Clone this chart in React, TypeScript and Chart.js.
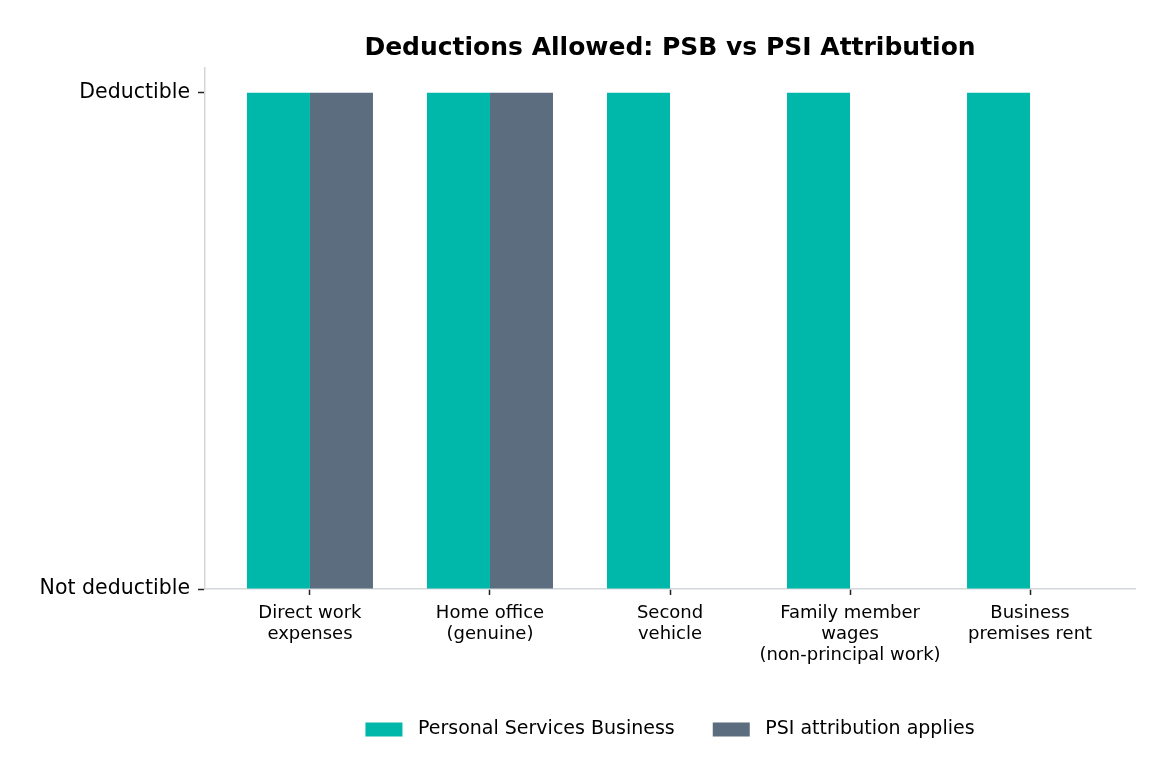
import React, { useEffect, useRef } from "react";
import { Chart, registerables } from "chart.js";

Chart.register(...registerables);

const categories: string[][] = [
  ["Direct work", "expenses"],
  ["Home office", "(genuine)"],
  ["Second", "vehicle"],
  ["Family member", "wages", "(non-principal work)"],
  ["Business", "premises rent"],
];
const psbValues = [1, 1, 1, 1, 1];
const psiValues = [1, 1, 0, 0, 0];
const yTickValues = [0, 1];
const yTickLabels = ["Not deductible", "Deductible"];

const TEAL = "#00B8A9";
const SLATE = "#5B6D7E";
const SPINE = "#d3d6da";
const TICK = "#222222";
const FONT = "'DejaVu Sans', sans-serif";

export default function App() {
  const canvasRef = useRef<HTMLCanvasElement | null>(null);

  useEffect(() => {
    if (!canvasRef.current) return;
    const toPoints = (vals: number[]) => vals.map((y, x) => ({ x, y }));
    const chart = new Chart(canvasRef.current, {
      type: "bar",
      data: {
        datasets: [
          {
            label: "Personal Services Business",
            data: toPoints(psbValues),
            backgroundColor: TEAL,
            borderWidth: 0,
            categoryPercentage: 0.7,
            barPercentage: 1.0,
          },
          {
            label: "PSI attribution applies",
            data: toPoints(psiValues),
            backgroundColor: SLATE,
            borderWidth: 0,
            categoryPercentage: 0.7,
            barPercentage: 1.0,
          },
        ],
      },
      options: {
        animation: false,
        responsive: true,
        maintainAspectRatio: false,
        layout: { padding: { left: 0, right: 37, top: 0, bottom: 34 } },
        plugins: {
          title: {
            display: true,
            text: "Deductions Allowed: PSB vs PSI Attribution",
            fullSize: false,
            color: "#000",
            font: { family: FONT, size: 25, weight: "bold" },
            padding: { top: 33, bottom: 5 },
          },
          legend: {
            position: "bottom",
            fullSize: false,
            labels: {
              color: "#000",
              font: { family: FONT, size: 19 },
              boxWidth: 37,
              boxHeight: 14,
              padding: 38,
              generateLabels: (c: any) => {
                const items = Chart.defaults.plugins.legend.labels.generateLabels(c);
                return items.map((it: any) => ({ ...it, text: " " + it.text }));
              },
            },
          },
          tooltip: { enabled: false },
        },
        scales: {
          x: {
            type: "linear",
            min: -0.583,
            max: 4.583,
            offset: false,
            grid: {
              display: true,
              offset: false,
              drawOnChartArea: false,
              drawTicks: true,
              tickLength: 6,
              tickWidth: 1.5,
              tickColor: TICK,
              color: TICK,
            },
            border: { display: true, color: SPINE, width: 1.5 },
            afterBuildTicks: (scale: any) => {
              scale.ticks = categories.map((_, i) => ({ value: i }));
            },
            afterFit: (scale: any) => {
              scale.height = 93;
            },
            ticks: {
              autoSkip: false,
              maxRotation: 0,
              padding: 8,
              color: "#000",
              font: { family: FONT, size: 18, lineHeight: 1.17 },
              callback: (v: any) => categories[Number(v)] ?? "",
            },
          },
          y: {
            min: 0,
            max: 1.05,
            grid: {
              display: true,
              drawOnChartArea: false,
              drawTicks: true,
              tickLength: 7,
              tickWidth: 1.5,
              tickColor: TICK,
              color: TICK,
            },
            border: { display: true, color: SPINE, width: 1.5 },
            afterBuildTicks: (scale: any) => {
              scale.ticks = yTickValues.map((value) => ({ value }));
            },
            afterFit: (scale: any) => {
              scale.width = 205;
            },
            ticks: {
              padding: 8,
              color: "#000",
              font: { family: FONT, size: 20.5 },
              callback: (v: any) => {
                const i = yTickValues.indexOf(Number(v));
                return i >= 0 ? yTickLabels[i] : "";
              },
            },
          },
        },
      },
    } as any);
    return () => chart.destroy();
  }, []);

  return (
    <div style={{ position: "absolute", left: 0, top: 0, width: 1172, height: 783, background: "#fff" }}>
      <canvas ref={canvasRef} />
    </div>
  );
}
